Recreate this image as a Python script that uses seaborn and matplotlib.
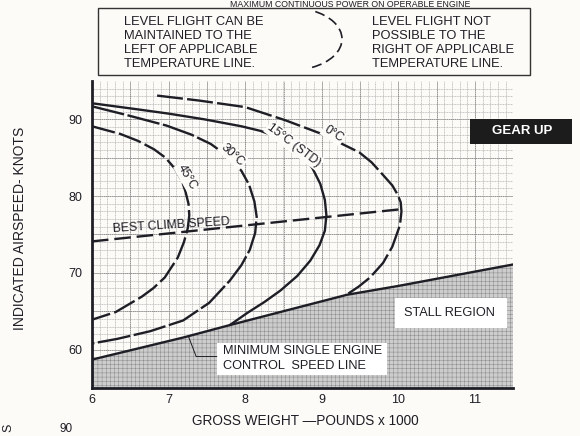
import numpy as np
import pandas as pd
import matplotlib
matplotlib.use("Agg")
import matplotlib.pyplot as plt
from matplotlib.patches import Rectangle, Arc
import seaborn as sns

# Gross weight (x1000 lb) and indicated airspeed (kt) along each temperature line
t0_weight = [6.85, 7.4, 8.0, 8.52, 9.0, 9.49, 9.65, 9.8, 9.92, 9.99, 10.03, 10.04, 10.02, 9.92, 9.8, 9.63, 9.48, 9.33]
t0_speed = [93.1, 92.45, 91.6, 89.9, 88.1, 85.7, 84.4, 82.75, 81.4, 80.2, 79.2, 78.0, 76.2, 73.4, 71.3, 69.4, 68.2, 67.2]

t15_weight = [6.0, 6.6, 7.0, 7.47, 7.95, 8.2, 8.39, 8.6, 8.75, 8.88, 8.98, 9.04, 9.06, 9.04,
              8.97, 8.85, 8.68, 8.46, 8.25, 8.03, 7.8]
t15_speed = [92.1, 91.3, 90.75, 90.0, 89.1, 88.5, 87.8, 86.7, 85.4, 83.6, 81.6, 79.5, 77.5, 75.5,
             73.6, 71.6, 69.6, 67.7, 66.2, 64.8, 63.2]

t30_weight = [6.0, 6.44, 6.97, 7.3, 7.55, 7.8, 7.95, 8.05, 8.12, 8.15, 8.13, 8.06, 7.95, 7.8,
              7.53, 7.19, 6.76, 6.33, 6.0]
t30_speed = [91.7, 90.6, 89.2, 88.0, 86.8, 85.0, 83.3, 81.5, 79.3, 77.3, 75.2, 73.0, 71.0, 69.0,
             66.1, 63.8, 62.4, 61.4, 60.8]

t45_weight = [6.0, 6.37, 6.6, 6.81, 6.96, 7.08, 7.17, 7.22, 7.26, 7.27, 7.25, 7.2, 7.12, 6.95,
              6.8, 6.65, 6.31, 6.0]
t45_speed = [89.1, 88.1, 87.2, 86.1, 85.0, 83.6, 82.1, 80.6, 79.0, 77.5, 75.8, 74.0, 72.0, 69.4,
             68.0, 66.9, 64.9, 63.9]

# Minimum single engine control speed line (upper edge of the stall region)
vmc_weight = [6.0, 7.2, 7.8, 9.33, 10.0, 11.5]
vmc_speed = [58.7, 61.6, 63.2, 67.15, 68.3, 71.1]

# Best climb speed line
climb_weight = [6.0, 10.04]
climb_speed = [74.1, 78.3]

x_ticks = [6, 7, 8, 9, 10, 11]
y_ticks = [60, 70, 80, 90]

INK = "#1e1e26"
PAPER = "#fcfbf7"

sns.set_theme(style="white")
plt.rcParams["font.family"] = ["Liberation Sans", "DejaVu Sans"]
plt.rcParams["hatch.linewidth"] = 0.35

fig = plt.figure(figsize=(5.8, 4.36), dpi=100, facecolor=PAPER)
ax = fig.add_axes([92 / 580, 48 / 436, 421.3 / 580, 307 / 436])
ax.set_facecolor(PAPER)
ax.set_xlim(6, 11.5)
ax.set_ylim(55, 95)

# graph-paper grid
for gx in np.arange(6.1, 11.5, 0.1):
    ax.axvline(gx, color="#b0b0b0", lw=0.5, ls=(0, (1.5, 0.8)), zorder=0)
for gy in np.arange(56, 95, 1):
    ax.axhline(gy, color="#b0b0b0", lw=0.5, ls=(0, (1.5, 0.8)), zorder=0)
for gx in np.arange(6.5, 11.5, 0.5):
    ax.axvline(gx, color="#888888", lw=0.6, ls=(0, (1.5, 0.8)), zorder=0)
for gy in np.arange(60, 95, 5):
    ax.axhline(gy, color="#888888", lw=0.6, ls=(0, (1.5, 0.8)), zorder=0)

# stall region
ax.fill_between(vmc_weight, vmc_speed, 55, facecolor="#cdcdcd", edgecolor="#8a8a8a",
                hatch="++++", lw=0, zorder=1)

def curve(w, s, style):
    sns.lineplot(x=w, y=s, sort=False, estimator=None, color=INK, lw=1.7,
                 linestyle=style, ax=ax, zorder=3)

curve(t0_weight, t0_speed, (0, (11, 1.8)))
curve(t15_weight, t15_speed, "-")
curve(t30_weight, t30_speed, (0, (14, 1.5)))
curve(t45_weight, t45_speed, (0, (10, 1.8)))
curve(vmc_weight, vmc_speed, "-")
curve(climb_weight, climb_speed, (0, (7, 2.5)))

# labels set into the curves
gap = dict(boxstyle="square,pad=0.12", facecolor=PAPER, edgecolor="none")
lab = dict(color=INK, fontsize=8.8, ha="center", va="center", rotation_mode="anchor", zorder=4)
ax.text(7.24, 82.5, "45°C", rotation=-60, bbox=gap, **lab)
ax.text(7.84, 85.4, "30°C", rotation=-43, bbox=gap, **lab)
ax.text(8.64, 86.6, "15°C (STD)", rotation=-37, bbox=gap, **lab)
ax.text(9.15, 88.1, "0°C", rotation=-33, bbox=gap, **lab)
ax.text(7.04, 76.2, "BEST CLIMB SPEED", rotation=3.5, **lab)

# boxed notes inside the plot
ax.add_patch(Rectangle((9.96, 62.8), 1.46, 3.9, facecolor="white", edgecolor="none", zorder=4))
ax.text(10.67, 64.8, "STALL REGION", color=INK, fontsize=9.2, ha="center", va="center", zorder=5)
ax.add_patch(Rectangle((7.63, 56.7), 2.22, 4.2, facecolor="white", edgecolor="none", zorder=4))
ax.text(7.71, 59.8, "MINIMUM SINGLE ENGINE", color=INK, fontsize=9.2, ha="left", va="center", zorder=5)
ax.text(7.71, 57.9, "CONTROL  SPEED LINE", color=INK, fontsize=9.2, ha="left", va="center", zorder=5)
ax.plot([7.26, 7.36, 7.63], [61.7, 59.1, 59.1], color=INK, lw=0.7, zorder=4)

# gear-up tag
ax.add_patch(Rectangle((10.93, 86.8), 1.34, 3.3, facecolor="#1c1c1c", edgecolor="none",
                       zorder=5, clip_on=False))
ax.text(11.62, 88.45, "GEAR UP", color="white", fontsize=9.5, fontweight="bold",
        ha="center", va="center", zorder=6, clip_on=False)

# axes styling
for side in ("top", "right"):
    ax.spines[side].set_visible(False)
for side in ("left", "bottom"):
    ax.spines[side].set_color(INK)
    ax.spines[side].set_linewidth(2.0)
ax.set_xticks(x_ticks)
ax.set_yticks(y_ticks)
ax.set_xticklabels([str(v) for v in x_ticks])
ax.set_yticklabels([str(v) for v in y_ticks])
ax.tick_params(axis="x", length=0, pad=4, labelsize=9, labelcolor=INK)
ax.tick_params(axis="y", length=0, pad=7, labelsize=9, labelcolor=INK)
ax.set_xlabel("")
ax.set_ylabel("")

fig.text(305 / 580, 1 - 421 / 436, "GROSS WEIGHT \u2014POUNDS x 1000", ha="center", va="center",
         fontsize=9.8, color=INK)
fig.text(20 / 580, 1 - 228 / 436, "INDICATED AIRSPEED- KNOTS", ha="center", va="center",
         rotation=90, fontsize=10, color=INK)

# note box above the plot
fig.patches.append(Rectangle((98 / 580, 1 - 75 / 436), 432 / 580, 67 / 436,
                             transform=fig.transFigure, facecolor="none",
                             edgecolor="#333333", lw=1.0))
left_note = "LEVEL FLIGHT CAN BE\nMAINTAINED TO THE\nLEFT OF APPLICABLE\nTEMPERATURE LINE."
right_note = "LEVEL FLIGHT NOT\nPOSSIBLE TO THE\nRIGHT OF APPLICABLE\nTEMPERATURE LINE."
fig.text(124 / 580, 1 - 43 / 436, left_note, ha="left", va="center", fontsize=9.3,
         color=INK, linespacing=1.2)
fig.text(372 / 580, 1 - 43 / 436, right_note, ha="left", va="center", fontsize=9.3,
         color=INK, linespacing=1.2)
fig.patches.append(Arc((292 / 580, 1 - 39 / 436), 100 / 580, 62 / 436, theta1=-62, theta2=62,
                       transform=fig.transFigure, color=INK, lw=1.2, ls=(0, (6, 3))))
fig.text(470 / 580, 1 - 7 / 436, "MAXIMUM CONTINUOUS POWER ON OPERABLE ENGINE",
         ha="right", va="baseline", fontsize=6.3, color=INK)

# edge of the following page section
fig.text(8 / 580, 1 - 428 / 436, "S", rotation=90, ha="center", va="center", fontsize=9, color=INK)
fig.text(66 / 580, 1 - 429 / 436, "90", ha="center", va="center", fontsize=8.5, color=INK)

fig.savefig("out.png", dpi=100, facecolor=PAPER)
